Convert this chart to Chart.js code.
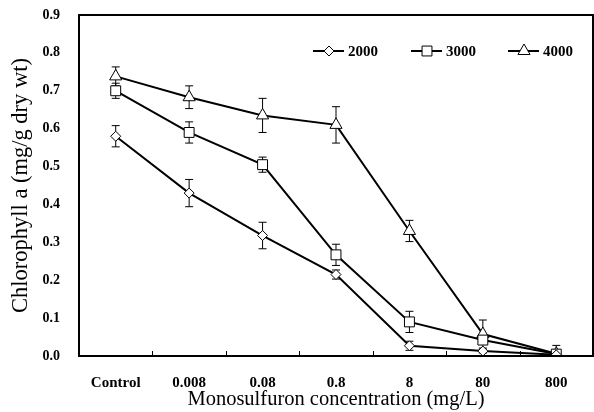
<!DOCTYPE html>
<html>
<head>
<meta charset="utf-8">
<script src="https://cdn.jsdelivr.net/npm/chart.js@4/dist/chart.umd.min.js"></script>
<style>
  html, body { margin: 0; padding: 0; background: #fff; }
  #wrap { width: 594px; height: 412px; }
</style>
</head>
<body>
<div id="wrap"><canvas id="chart" width="594" height="412"></canvas></div>
<script>
// concentrations on the x axis
const categories = ["Control", "0.008", "0.08", "0.8", "8", "80", "800"];

// chlorophyll a means
const s2000 = [0.58, 0.43, 0.318, 0.215, 0.027, 0.013, 0.003];
const s3000 = [0.70, 0.59, 0.505, 0.267, 0.09, 0.042, 0.005];
const s4000 = [0.738, 0.683, 0.635, 0.61, 0.33, 0.058, 0.006];

// error bar half-heights
const e2000 = [0.028, 0.036, 0.035, 0.012, 0.012, 0.005, 0.004];
const e3000 = [0.02, 0.028, 0.02, 0.028, 0.028, 0.01, 0.008];
const e4000 = [0.025, 0.03, 0.045, 0.048, 0.028, 0.037, 0.022];

const serif = '"Times New Roman", "Liberation Serif", serif';

function series(label, data, errs, style, r) {
  return {
    label: label,
    data: data,
    errors: errs,
    borderColor: '#000',
    borderWidth: 2,
    pointStyle: style,
    pointRadius: r,
    pointBackgroundColor: '#fff',
    pointBorderColor: '#000',
    pointBorderWidth: 1,
    tension: 0
  }
}

// error bars, drawn under the markers
const errorBars = {
  id: 'errorBars',
  beforeDatasetsDraw(chart) {
    const ctx = chart.ctx
    const y = chart.scales.y
    ctx.save()
    ctx.strokeStyle = '#000'
    ctx.lineWidth = 1
    chart.data.datasets.forEach((ds, i) => {
      const meta = chart.getDatasetMeta(i)
      meta.data.forEach((pt, j) => {
        const top = y.getPixelForValue(ds.data[j] + ds.errors[j])
        const bot = y.getPixelForValue(Math.max(0, ds.data[j] - ds.errors[j]))
        ctx.beginPath()
        ctx.moveTo(pt.x, top); ctx.lineTo(pt.x, bot)
        ctx.moveTo(pt.x - 4, top); ctx.lineTo(pt.x + 4, top)
        ctx.moveTo(pt.x - 4, bot); ctx.lineTo(pt.x + 4, bot)
        ctx.stroke()
      })
    })
    ctx.restore()
  }
}

// frame, inner x ticks and the legend inside the plot
const frame = {
  id: 'frame',
  afterDraw(chart) {
    const ctx = chart.ctx
    const a = chart.chartArea
    const x = chart.scales.x
    ctx.save()
    ctx.strokeStyle = '#000'
    ctx.lineWidth = 2
    ctx.strokeRect(a.left, a.top, a.right - a.left, a.bottom - a.top)
    ctx.lineWidth = 1
    const step = x.getPixelForValue(1) - x.getPixelForValue(0)
    for (let i = 1; i < categories.length; i++) {
      const px = Math.round(x.getPixelForValue(i) - step / 2) + 0.5
      ctx.beginPath()
      ctx.moveTo(px, a.bottom)
      ctx.lineTo(px, a.bottom - 5)
      ctx.stroke()
    }
    // legend
    const ly = 51
    const starts = [313, 411, 508]
    ctx.font = 'bold 15px ' + serif
    ctx.textBaseline = 'middle'
    chart.data.datasets.forEach((ds, i) => {
      const sx = starts[i]
      ctx.lineWidth = 2
      ctx.beginPath()
      ctx.moveTo(sx, ly); ctx.lineTo(sx + 31, ly)
      ctx.stroke()
      ctx.lineWidth = 1
      ctx.fillStyle = '#fff'
      Chart.helpers.drawPoint(ctx, {pointStyle: ds.pointStyle, radius: ds.pointRadius, rotation: 0, borderWidth: 1}, sx + 16, ly)
      ctx.fillStyle = '#000'
      ctx.fillText(ds.label, sx + 35, ly + 1)
    })
    ctx.restore()
  }
}

new Chart(document.getElementById('chart'), {
  type: 'line',
  data: {
    labels: categories,
    datasets: [
      series('2000', s2000, e2000, 'rectRot', 5),
      series('3000', s3000, e3000, 'rect', 7),
      series('4000', s4000, e4000, 'triangle', 7)
    ]
  },
  options: {
    responsive: false,
    animation: false,
    layout: { autoPadding: false, padding: { top: 15, right: 1, left: 0, bottom: 0 } },
    plugins: { legend: { display: false }, tooltip: { enabled: false } },
    scales: {
      x: {
        offset: true,
        grid: { display: false, drawTicks: false },
        border: { display: false },
        afterFit(s) { s.height = 56; s.paddingLeft = 0; s.paddingRight = 0 },
        ticks: {
          color: '#000', padding: 18, maxRotation: 0, autoSkip: false,
          font: { family: serif, size: 15, weight: 'bold' }
        },
        title: {
          display: true, text: 'Monosulfuron concentration (mg/L)', color: '#000',
          font: { family: serif, size: 20.5 }, padding: { top: 0, bottom: 0 }
        }
      },
      y: {
        min: 0, max: 0.9,
        grid: { display: false, drawTicks: false },
        border: { display: false },
        afterFit(s) { s.width = 79; s.paddingTop = 0; s.paddingBottom = 0 },
        ticks: {
          stepSize: 0.1, color: '#000', padding: 19,
          font: { family: serif, size: 14, weight: 'bold' },
          callback: v => v.toFixed(1)
        },
        title: {
          display: true, text: 'Chlorophyll a (mg/g dry wt)', color: '#000',
          font: { family: serif, size: 22.5 }, padding: { top: 8, bottom: 0 }
        }
      }
    }
  },
  plugins: [errorBars, frame]
});
</script>
</body>
</html>
